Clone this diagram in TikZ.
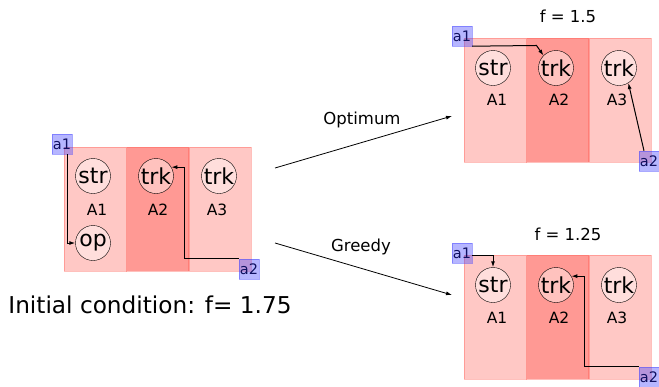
\documentclass[tikz,border=0pt]{standalone}
\usepackage{fontspec}
\setmainfont{DejaVu Sans}
\usepackage{tikz}
\usetikzlibrary{positioning,arrows.meta,calc}
\definecolor{ASred}{HTML}{FF4A40}
\definecolor{ASblue}{HTML}{4040FF}
\definecolor{ASnavy}{HTML}{101060}
\tikzset{
  colbox/.style={draw=ASred, draw opacity=0.35, fill=ASred, fill opacity=0.3, text opacity=1, minimum width=62pt, minimum height=124pt, inner sep=0pt, anchor=north west},
  midcol/.style={colbox, fill opacity=0.56},
  taskcirc/.style={circle, draw=black, thin, fill=white, fill opacity=0.4, text opacity=1, minimum size=35pt, inner sep=0pt, font=\fontsize{22}{24}\selectfont},
  arealabel/.style={font=\fontsize{15.5}{18}\selectfont},
  agentbox/.style={draw=ASblue, draw opacity=0.45, fill=ASblue, fill opacity=0.38, text opacity=1, minimum size=20pt, inner sep=0pt, text=ASnavy, font=\fontsize{14.5}{16}\selectfont},
  agentarr/.style={-{Latex[length=6pt,width=4pt]}, line width=1pt, draw=black},
  steparr/.style={-{Latex[length=6pt,width=4pt]}, line width=0.8pt, draw=black},
  caption/.style={font=\fontsize{16.5}{19}\selectfont}
}
\begin{document}
\begin{tikzpicture}[x=1pt, y=-1pt]
\useasboundingbox (0,0) rectangle (659,386);
% initial condition
\begin{scope}[shift={(64,147)}]
\node[colbox] (iA1) at (0,0) {};
\node[midcol, right=0pt of iA1] (iA2) {};
\node[colbox, right=0pt of iA2] (iA3) {};
\node[taskcirc] (i1) at (29,29) {str};
\node[taskcirc] (i2) at (92,29) {trk};
\node[taskcirc] (i3) at (155,29) {trk};
\node[taskcirc] (iop) at (29,96) {op};
\node[arealabel] at (33,63) {A1};
\node[arealabel] at (94,63) {A2};
\node[arealabel] at (153,63) {A3};
\node[agentbox] (ia1) at (-2,-3) {a1};
\node[agentbox] (ia2) at (185,122) {a2};
\draw[agentarr] ([xshift=5pt]ia1.south) |- (iop.west);
\draw[agentarr] (ia2.north west) -| ([xshift=13pt]i2.30) -- (i2.30);
\end{scope}
\node[font=\fontsize{23.2}{27}\selectfont] (init) at (150,305) {Initial condition: f= 1.75};

% optimum outcome
\begin{scope}[shift={(464,38)}]
\node[colbox] (oA1) at (0,0) {};
\node[midcol, right=0pt of oA1] (oA2) {};
\node[colbox, right=0pt of oA2] (oA3) {};
\node[taskcirc] (o1) at (29,30) {str};
\node[taskcirc] (o2) at (92,30) {trk};
\node[taskcirc] (o3) at (155,30) {trk};
\node[arealabel] at (33,62) {A1};
\node[arealabel] at (95,62) {A2};
\node[arealabel] at (153,62) {A3};
\node[agentbox] (oa1) at (-2,-2) {a1};
\node[agentbox] (oa2) at (185,123) {a2};
\draw[agentarr] (oa1.south east) -- ([shift={(-7pt,10pt)}]o2.135) -- (o2.135);
\draw[agentarr] ([xshift=-5pt]oa2.north) -- (o3.-58);
\end{scope}
\node[caption] (ftop) at (568,16) {f = 1.5};

% greedy outcome
\begin{scope}[shift={(464,255)}]
\node[colbox] (gA1) at (0,0) {};
\node[midcol, right=0pt of gA1] (gA2) {};
\node[colbox, right=0pt of gA2] (gA3) {};
\node[taskcirc] (g1) at (29,30) {str};
\node[taskcirc] (g2) at (92,30) {trk};
\node[taskcirc] (g3) at (155,30) {trk};
\node[arealabel] at (33,63) {A1};
\node[arealabel] at (95,63) {A2};
\node[arealabel] at (153,63) {A3};
\node[agentbox] (ga1) at (-2,-2) {a1};
\node[agentbox] (ga2) at (185,122) {a2};
\draw[agentarr] ([yshift=-2pt]ga1.east) -| (g1.north);
\draw[agentarr] (ga2.north west) -| ([xshift=13pt]g2.30) -- (g2.30);
\end{scope}
\node[caption] (fbot) at (568,234) {f = 1.25};

% transitions
\coordinate (optfrom) at (275,168);
\coordinate (optto) at (452,116);
\coordinate (grdfrom) at (275,243);
\coordinate (grdto) at (452,295);
\draw[steparr] (optfrom) -- (optto);
\draw[steparr] (grdfrom) -- (grdto);
\node[caption] (optlbl) at (362,120) {Optimum};
\node[caption] (grdlbl) at (361,247) {Greedy};
\end{tikzpicture}
\end{document}
